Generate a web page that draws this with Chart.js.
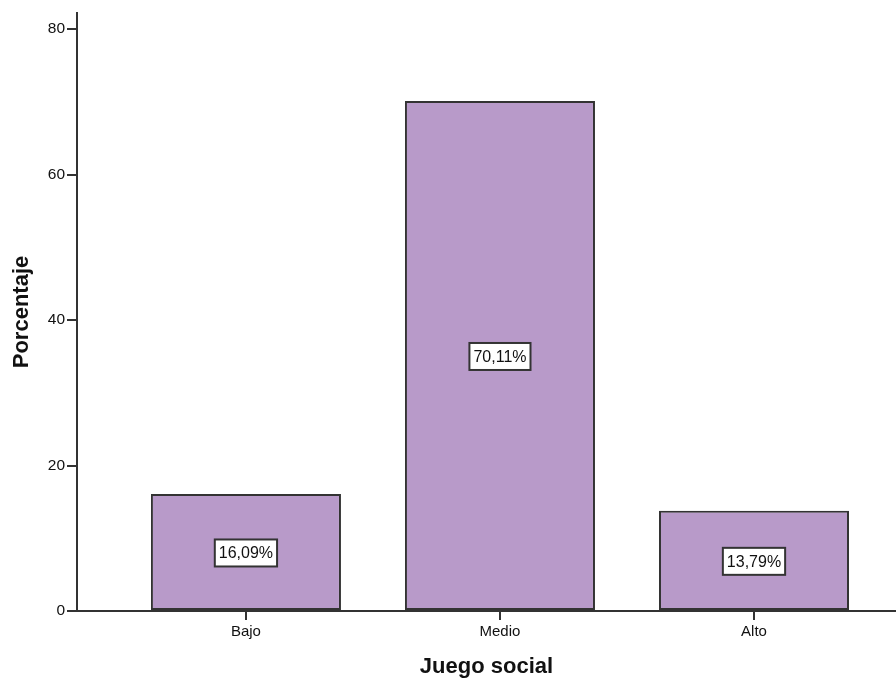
<!DOCTYPE html>
<html>
<head>
<meta charset="utf-8">
<script src="https://cdn.jsdelivr.net/npm/chart.js@4.4.1/dist/chart.umd.min.js"></script>
<style>
  body { margin: 0; background: #fff; }
  #wrap { width: 896px; height: 680px; position: relative; }
</style>
</head>
<body>
<div id="wrap"><canvas id="myChart"></canvas></div>
<script>
// data
var categories = ['Bajo', 'Medio', 'Alto'];
var percentages = [16.09, 70.11, 13.79];
var yTicks = [0, 20, 40, 60, 80];

var axisColor = '#333333';

// white boxed value labels in the middle of each bar
var boxLabels = {
    id: 'boxLabels',
    afterDatasetsDraw: function (chart) {
        var ctx = chart.ctx;
        var meta = chart.getDatasetMeta(0);
        ctx.save();
        ctx.font = '16px "Liberation Sans", Arial, sans-serif';
        ctx.textAlign = 'center';
        ctx.textBaseline = 'middle';
        meta.data.forEach(function (bar, i) {
            var txt = percentages[i].toFixed(2).replace('.', ',') + '%';
            var w = ctx.measureText(txt).width + 8;
            var h = 27;
            var cy = (bar.y + bar.base) / 2 + 1;
            ctx.fillStyle = '#ffffff';
            ctx.fillRect(bar.x - w / 2, cy - h / 2, w, h);
            ctx.lineWidth = 2;
            ctx.strokeStyle = '#333333';
            ctx.strokeRect(bar.x - w / 2, cy - h / 2, w, h);
            ctx.fillStyle = '#111111';
            ctx.fillText(txt, bar.x, cy + 1);
        });
        ctx.restore();
    }
};

var ctx = document.getElementById('myChart').getContext('2d');
var myChart = new Chart(ctx, {
    type: 'bar',
    data: {
        datasets: [{
            data: percentages.map(function (v, i) { return { x: i, y: v }; }),
            backgroundColor: '#b89ac9',
            borderColor: '#333333',
            borderWidth: 2,
            borderSkipped: false,
            barPercentage: 0.748,
            categoryPercentage: 1
        }]
    },
    options: {
        responsive: true,
        maintainAspectRatio: false,
        animation: false,
        layout: { padding: { top: 13, right: 0, left: 0, bottom: 0 } },
        plugins: {
            legend: { display: false },
            tooltip: { enabled: false }
        },
        scales: {
            x: {
                type: 'linear',
                offset: false,
                min: -0.665,
                max: 2.559,
                afterBuildTicks: function (axis) {
                    axis.ticks = categories.map(function (c, i) { return { value: i }; });
                },
                afterFit: function (axis) { axis.height = 69; },
                ticks: {
                    padding: 3,
                    color: '#111',
                    font: { family: '"Liberation Sans", Arial, sans-serif', size: 15 },
                    callback: function (value) { return categories[value]; }
                },
                grid: {
                    offset: false,
                    drawOnChartArea: false,
                    drawTicks: true,
                    tickLength: 9,
                    color: axisColor,
                    lineWidth: 2
                },
                border: { display: true, color: axisColor, width: 2 },
                title: {
                    display: true,
                    text: 'Juego social',
                    color: '#111',
                    padding: { top: 0, bottom: 0 },
                    font: { family: '"Liberation Sans", Arial, sans-serif', size: 22, weight: 'bold' }
                }
            },
            y: {
                min: 0,
                max: 82.2,
                afterBuildTicks: function (axis) {
                    axis.ticks = yTicks.map(function (v) { return { value: v }; });
                },
                afterFit: function (axis) { axis.width = 77; },
                ticks: {
                    padding: 2,
                    color: '#111',
                    font: { family: '"Liberation Sans", Arial, sans-serif', size: 15.5 }
                },
                grid: {
                    drawOnChartArea: false,
                    drawTicks: true,
                    tickLength: 10,
                    color: axisColor,
                    lineWidth: 2
                },
                border: { display: true, color: axisColor, width: 2 },
                title: {
                    display: true,
                    text: 'Porcentaje',
                    color: '#111',
                    padding: { top: 9, bottom: 0 },
                    font: { family: '"Liberation Sans", Arial, sans-serif', size: 22, weight: 'bold' }
                }
            }
        }
    },
    plugins: [boxLabels]
});
</script>
</body>
</html>
